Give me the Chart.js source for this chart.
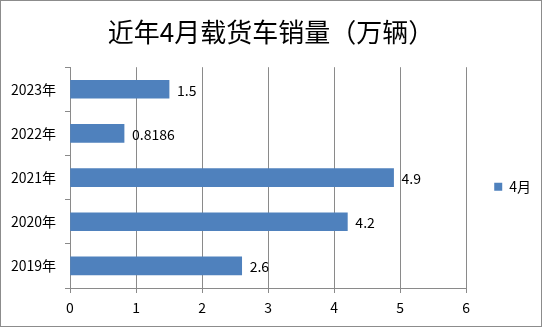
<!DOCTYPE html>
<html>
<head>
<meta charset="utf-8">
<script src="https://cdn.jsdelivr.net/npm/chart.js@4"></script>
<style>
  html, body { margin: 0; padding: 0; background: #fff; }
  .frame { position: relative; width: 540px; height: 325px; border: 1px solid #8c8c8c; }
  canvas { display: block; }
</style>
</head>
<body>
<div class="frame"><canvas id="chart" width="540" height="325"></canvas></div>
<script>
const years = ['2019年', '2020年', '2021年', '2022年', '2023年'];
const aprilSales = [2.6, 4.2, 4.9, 0.8186, 1.5];
const seriesName = '4月';
const chartTitle = '近年4月载货车销量（万辆）';

const FONT = '"Noto Sans CJK SC", "Noto Sans", sans-serif';
const GRID = '#8a8a8a';
const BAR = '#4f81bd';

// value labels to the right of each bar
const barLabels = {
  id: 'barLabels',
  afterDatasetsDraw(chart) {
    const { ctx } = chart;
    const meta = chart.getDatasetMeta(0);
    ctx.save();
    ctx.font = '14px ' + FONT;
    ctx.fillStyle = '#000';
    ctx.textAlign = 'left';
    ctx.textBaseline = 'middle';
    meta.data.forEach((bar, i) => {
      ctx.fillText(String(aprilSales[i]), bar.x + 8, bar.y + 1);
    });
    ctx.restore();
  }
};

new Chart(document.getElementById('chart'), {
  type: 'bar',
  data: {
    labels: years,
    datasets: [{
      label: seriesName,
      data: aprilSales,
      backgroundColor: BAR,
      borderWidth: 0,
      barThickness: 18,
    }],
  },
  options: {
    indexAxis: 'y',
    responsive: false,
    animation: false,
    layout: { padding: 0 },
    plugins: {
      title: {
        display: true,
        text: chartTitle,
        color: '#000',
        font: { family: FONT, size: 26, weight: 'normal' },
        padding: { top: 16, bottom: 19 },
      },
      legend: {
        position: 'right',
        title: { display: true, text: ' ', font: { size: 12 }, padding: { top: 0, bottom: 32 } },
        labels: {
          boxWidth: 8, boxHeight: 8, padding: 14,
          color: '#000',
          font: { family: FONT, size: 14 },
        },
      },
      tooltip: { enabled: false },
    },
    scales: {
      x: {
        min: 0, max: 6,
        ticks: { stepSize: 1, color: '#000', padding: 6, font: { family: FONT, size: 14 } },
        grid: { color: GRID, tickLength: 5, tickColor: GRID },
        border: { color: GRID },
        afterFit(scale) { scale.height = 38; },
      },
      y: {
        reverse: true,
        ticks: { color: '#000', padding: 9, font: { family: FONT, size: 14 } },
        grid: { drawOnChartArea: false, tickLength: 5, color: GRID },
        border: { color: GRID },
        afterFit(scale) { scale.width = 69; },
      },
      // empty spacer between plot and legend
      gap: {
        type: 'linear',
        axis: 'y',
        position: 'right',
        ticks: { display: false },
        grid: { display: false },
        border: { display: false },
        afterFit(scale) { scale.width = 14; },
      },
    },
  },
  plugins: [barLabels],
});
</script>
</body>
</html>
